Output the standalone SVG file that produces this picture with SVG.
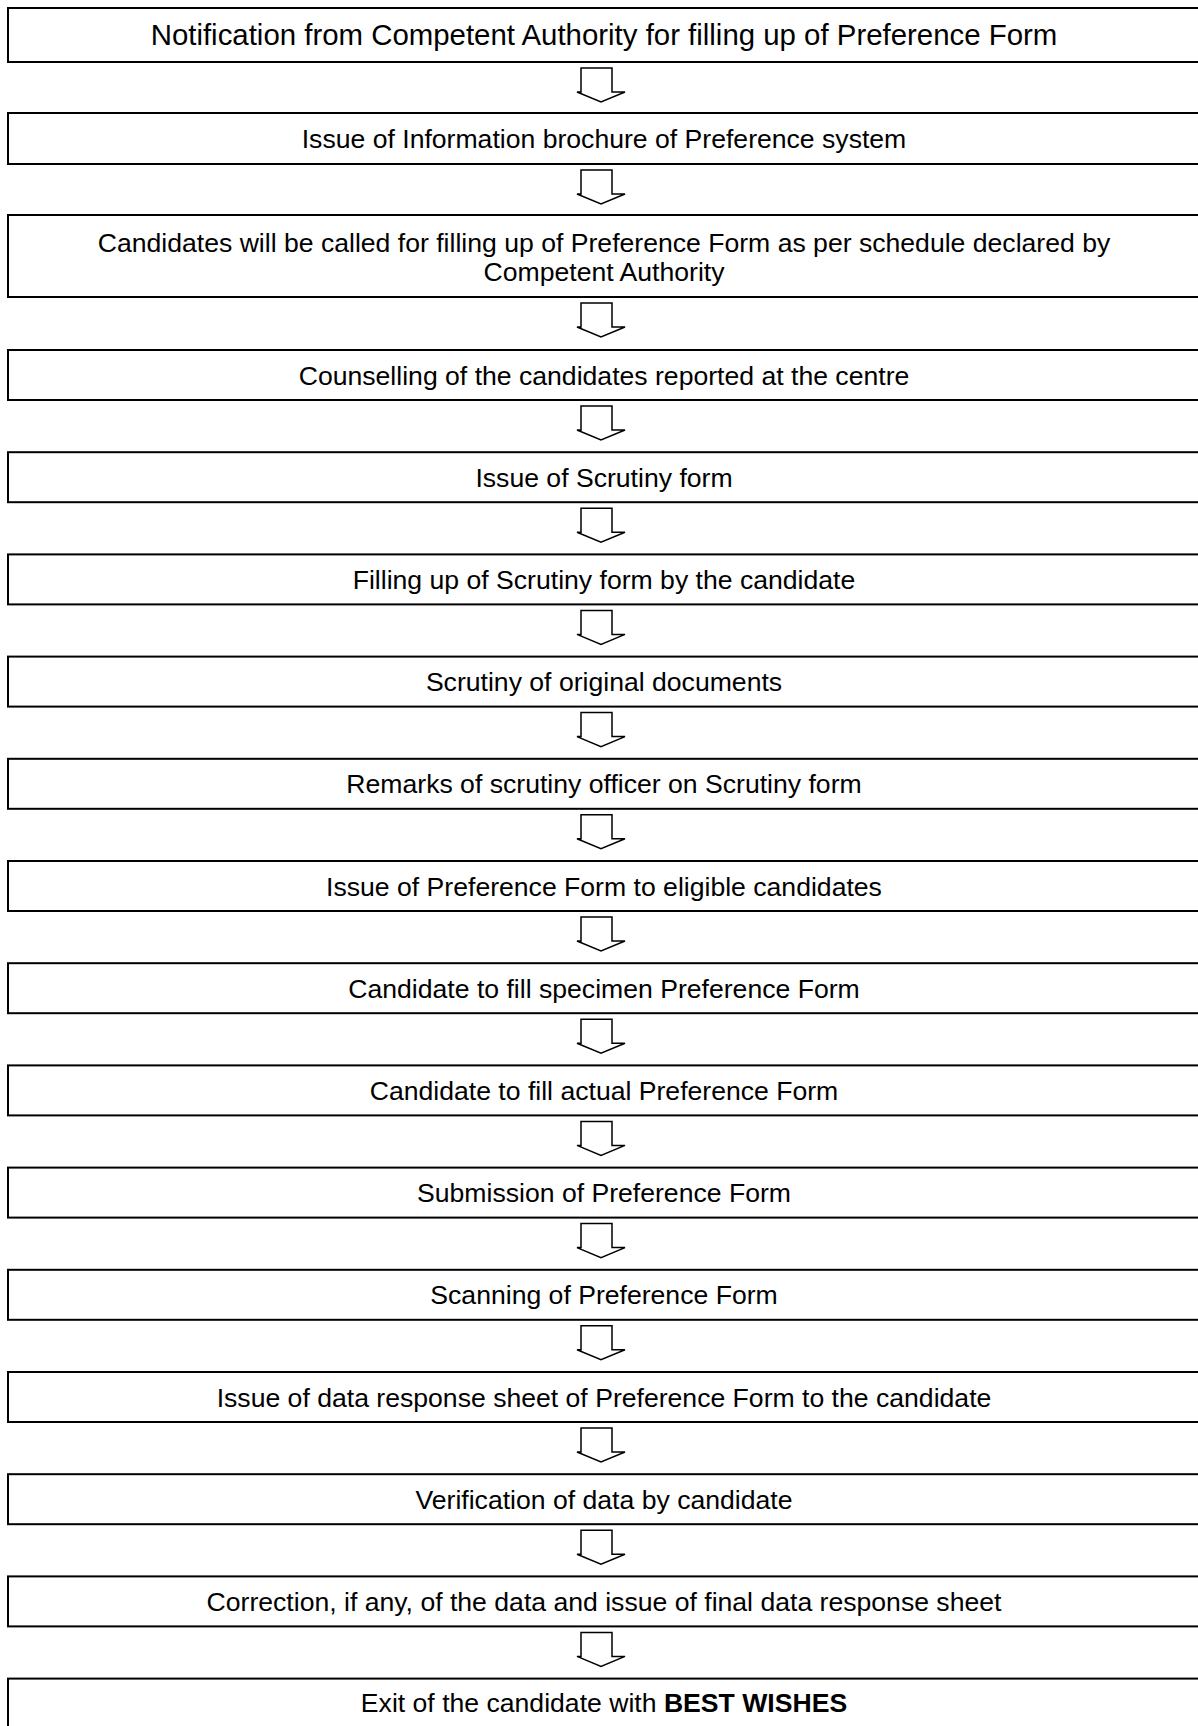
<svg xmlns="http://www.w3.org/2000/svg" width="1198" height="1726" viewBox="0 0 1198 1726">
<style>
.box{fill:#fff;stroke:#000;stroke-width:2}
.t{font-family:"Liberation Sans",Arial,sans-serif;font-size:26.6px;fill:#000;text-anchor:middle}
.t1{font-size:29.4px}
.arr{fill:#fff;stroke:#000;stroke-width:1.5;stroke-linejoin:miter}
</style>
<defs>
<path id="dn" class="arr" d="M581,0 L612,0 L612,24 L625,24 L601,34 L577,24 L581,24 Z"/>
</defs>
<rect width="1198" height="1726" fill="#fff"/>
<g id="n1"><rect class="box" x="8" y="8" width="1192" height="54"/><text class="t t1" x="604" y="45">Notification from Competent Authority for filling up of Preference Form</text></g>
<g id="n2"><rect class="box" x="8" y="113" width="1192" height="51"/><text class="t" x="604" y="148">Issue of Information brochure of Preference system</text></g>
<g id="n3"><rect class="box" x="8" y="215" width="1192" height="82"/><text class="t" x="604" y="252">Candidates will be called for filling up of Preference Form as per schedule declared by</text><text class="t" x="604" y="281">Competent Authority</text></g>
<g id="n4"><rect class="box" x="8" y="350" width="1192" height="50"/><text class="t" x="604" y="384.5">Counselling of the candidates reported at the centre</text></g>
<g id="n5"><rect class="box" x="8" y="452.2" width="1192" height="50"/><text class="t" x="604" y="486.7">Issue of Scrutiny form</text></g>
<g id="n6"><rect class="box" x="8" y="554.4" width="1192" height="50"/><text class="t" x="604" y="588.9">Filling up of Scrutiny form by the candidate</text></g>
<g id="n7"><rect class="box" x="8" y="656.6" width="1192" height="50"/><text class="t" x="604" y="691.1">Scrutiny of original documents</text></g>
<g id="n8"><rect class="box" x="8" y="758.8" width="1192" height="50"/><text class="t" x="604" y="793.3">Remarks of scrutiny officer on Scrutiny form</text></g>
<g id="n9"><rect class="box" x="8" y="861" width="1192" height="50"/><text class="t" x="604" y="895.5">Issue of Preference Form to eligible candidates</text></g>
<g id="n10"><rect class="box" x="8" y="963.2" width="1192" height="50"/><text class="t" x="604" y="997.7">Candidate to fill specimen Preference Form</text></g>
<g id="n11"><rect class="box" x="8" y="1065.4" width="1192" height="50"/><text class="t" x="604" y="1099.9">Candidate to fill actual Preference Form</text></g>
<g id="n12"><rect class="box" x="8" y="1167.6" width="1192" height="50"/><text class="t" x="604" y="1202.1">Submission of Preference Form</text></g>
<g id="n13"><rect class="box" x="8" y="1269.8" width="1192" height="50"/><text class="t" x="604" y="1304.3">Scanning of Preference Form</text></g>
<g id="n14"><rect class="box" x="8" y="1372" width="1192" height="50"/><text class="t" x="604" y="1406.5">Issue of data response sheet of Preference Form to the candidate</text></g>
<g id="n15"><rect class="box" x="8" y="1474.2" width="1192" height="50"/><text class="t" x="604" y="1508.7">Verification of data by candidate</text></g>
<g id="n16"><rect class="box" x="8" y="1576.4" width="1192" height="50"/><text class="t" x="604" y="1610.9">Correction, if any, of the data and issue of final data response sheet</text></g>
<g id="n17"><rect class="box" x="8" y="1678.6" width="1192" height="60"/><text class="t" x="604" y="1712">Exit of the candidate with <tspan font-weight="bold">BEST WISHES</tspan></text></g>
<g id="connectors">
<use href="#dn" y="68"/>
<use href="#dn" y="170"/>
<use href="#dn" y="303"/>
<use href="#dn" y="406"/>
<use href="#dn" y="508.2"/>
<use href="#dn" y="610.4"/>
<use href="#dn" y="712.6"/>
<use href="#dn" y="814.8"/>
<use href="#dn" y="917"/>
<use href="#dn" y="1019.2"/>
<use href="#dn" y="1121.4"/>
<use href="#dn" y="1223.6"/>
<use href="#dn" y="1325.8"/>
<use href="#dn" y="1428"/>
<use href="#dn" y="1530.2"/>
<use href="#dn" y="1632.4"/>
</g>
</svg>
